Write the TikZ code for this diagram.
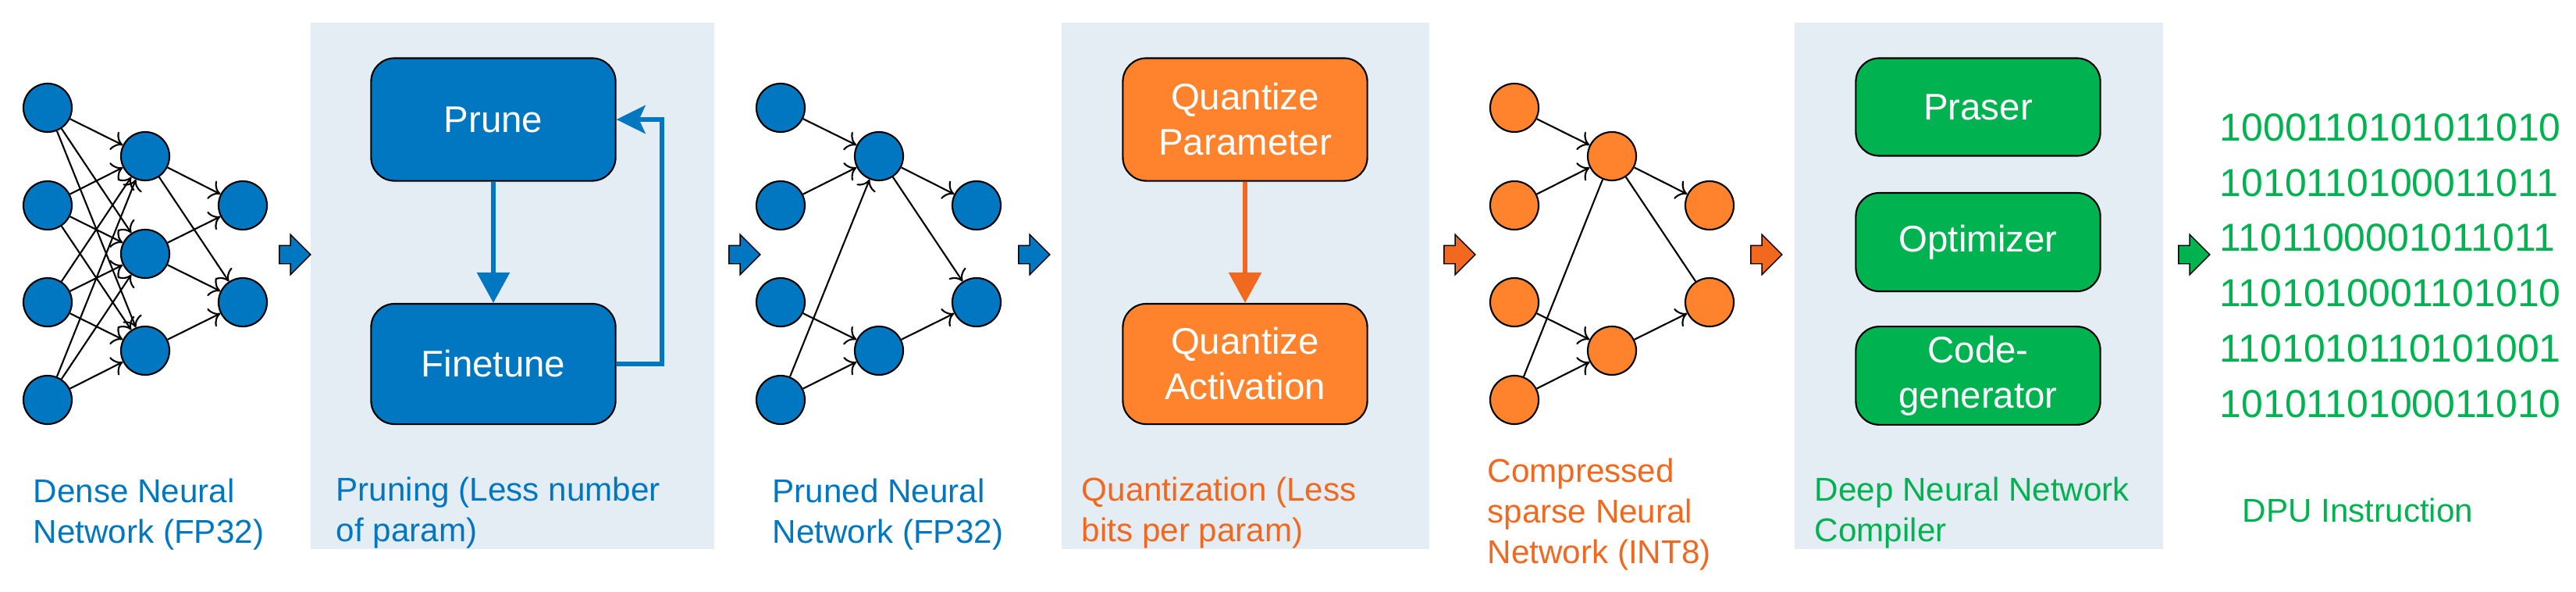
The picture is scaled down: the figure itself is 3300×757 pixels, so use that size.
\documentclass[tikz,border=0pt]{standalone}
\usepackage{fontspec}
\setmainfont{Liberation Sans}
\usetikzlibrary{arrows.meta,shapes.arrows}

\definecolor{nnblue}{RGB}{0,119,192}
\definecolor{nnorange}{RGB}{255,130,45}
\definecolor{arorange}{RGB}{242,104,30}
\definecolor{nngreen}{RGB}{0,178,80}
\definecolor{panel}{RGB}{228,236,244}

\tikzset{
  neuron/.style={circle, draw=black, line width=0.6pt, minimum size=0.62cm, inner sep=0pt},
  link/.style={line width=0.6pt, -{To[length=1.3mm,width=2.6mm]}},
  plain/.style={line width=0.6pt},
  stage/.style={rounded corners=0.3cm, draw=black, line width=0.6pt, text=white,
    minimum width=3.13cm, align=center, font=\fontsize{13.5}{16.5}\selectfont},
  fat/.style={single arrow, draw=black, line width=0.4pt, minimum height=0.4cm,
    inner xsep=0pt, inner ysep=0.11cm, single arrow head extend=0.14cm},
  caption/.style={anchor=north west, inner sep=0pt, align=left,
    font=\fontsize{12}{14.8}\selectfont}
}

\begin{document}
\begin{tikzpicture}[x=0.01cm, y=-0.01cm]

\useasboundingbox (0,0) rectangle (3300,757);

% panels
\fill[panel] (398,29) rectangle (915,703);
\fill[panel] (1360,29) rectangle (1831,703);
\fill[panel] (2299,29) rectangle (2771,703);

% dense network
\tikzstyle{every node} = [fill=nnblue]
\node[neuron] (a1) at (61,138) {};
\node[neuron] (a2) at (61,263) {};
\node[neuron] (a3) at (61,387) {};
\node[neuron] (a4) at (61,512) {};
\node[neuron] (b1) at (186,200) {};
\node[neuron] (b2) at (186,325) {};
\node[neuron] (b3) at (186,449) {};
\node[neuron] (c1) at (311,263) {};
\node[neuron] (c2) at (311,387) {};

\foreach \i in {a1,a2,a3,a4}
  \foreach \j in {b1,b2,b3}
    \draw[link] (\i) -- (\j);
\draw[link] (b1) -- (c1);
\draw[link] (b1) -- (c2);
\draw[link] (b2) -- (c1);
\draw[link] (b2) -- (c2);
\draw[link] (b3) -- (c2);

% pruned network
\node[neuron] (p1) at (1000,138) {};
\node[neuron] (p2) at (1000,263) {};
\node[neuron] (p3) at (1000,387) {};
\node[neuron] (p4) at (1000,512) {};
\node[neuron] (q1) at (1126,200) {};
\node[neuron] (q3) at (1126,449) {};
\node[neuron] (r1) at (1251,263) {};
\node[neuron] (r2) at (1251,387) {};

\draw[link] (p1) -- (q1);
\draw[link] (p2) -- (q1);
\draw[link] (p4) -- (q1);
\draw[link] (p3) -- (q3);
\draw[link] (p4) -- (q3);
\draw[link] (q1) -- (r1);
\draw[link] (q1) -- (r2);
\draw[link] (q3) -- (r2);

% compressed network
\tikzstyle{every node} = [fill=nnorange]
\node[neuron] (s1) at (1940,138) {};
\node[neuron] (s2) at (1940,263) {};
\node[neuron] (s3) at (1940,387) {};
\node[neuron] (s4) at (1940,512) {};
\node[neuron] (t1) at (2065,200) {};
\node[neuron] (t3) at (2065,449) {};
\node[neuron] (u1) at (2190,263) {};
\node[neuron] (u2) at (2190,387) {};

\draw[link] (s1) -- (t1);
\draw[link] (s2) -- (t1);
\draw[plain] (s4) -- (t1);
\draw[link] (s3) -- (t3);
\draw[link] (s4) -- (t3);
\draw[link] (t1) -- (u1);
\draw[plain] (t1) -- (u2);
\draw[link] (t3) -- (u2);

\tikzstyle{every node} = []

% pruning loop
\node[stage, fill=nnblue, minimum height=1.57cm] (prune) at (632,153) {Prune};
\node[stage, fill=nnblue, minimum height=1.54cm] (tune) at (632,466) {Finetune};
\coordinate (back) at (848,153);
\draw[nnblue, line width=1.7pt, -{Triangle[length=0.39cm,width=0.41cm]}] (prune) -- (tune);
\draw[nnblue, line width=1.7pt, -{Stealth[length=0.37cm,width=0.36cm,inset=0.08cm]}]
  (tune.east) -| (back) -- (prune.east);

% quantization
\node[stage, fill=nnorange, minimum height=1.57cm] (qpar) at (1595,153) {Quantize\\Parameter};
\node[stage, fill=nnorange, minimum height=1.54cm] (qact) at (1595,466) {Quantize\\Activation};
\draw[arorange, line width=1.7pt, -{Triangle[length=0.39cm,width=0.41cm]}] (qpar) -- (qact);

% compiler
\node[stage, fill=nngreen, minimum height=1.25cm] (parse) at (2534,137) {Praser};
\node[stage, fill=nngreen, minimum height=1.26cm] (opt) at (2534,310) {Optimizer};
\node[stage, fill=nngreen, minimum height=1.23cm] (gen) at (2534,481) {Code-\\generator};

% stage arrows
\node[fat, fill=nnblue] (f1) at (372,326) {};
\node[fat, fill=nnblue] (f2) at (948,326) {};
\node[fat, fill=nnblue] (f3) at (1319,326) {};
\node[fat, fill=arorange] (f4) at (1864,326) {};
\node[fat, fill=arorange] (f5) at (2257,326) {};
\node[fat, fill=nngreen] (f6) at (2805,326) {};

% instructions
\node[anchor=north west, inner sep=0pt, align=left, text=nngreen,
  font=\fontsize{14.2}{20.1}\selectfont] (bits) at (2843,145)
  {1000110101011010\\1010110100011011\\1101100001011011\\1101010001101010\\1101010110101001\\1010110100011010};

% captions
\node[caption, text=nnblue] (l1) at (42,612) {Dense Neural\\Network (FP32)};
\node[caption, text=nnblue] (l2) at (430,610) {Pruning (Less number\\of param)};
\node[caption, text=nnblue] (l3) at (989,612) {Pruned Neural\\Network (FP32)};
\node[caption, text=arorange] (l4) at (1385,610) {Quantization (Less\\bits per param)};
\node[caption, text=arorange] (l5) at (1905,586) {Compressed\\sparse Neural\\Network (INT8)};
\node[caption, text=nngreen] (l6) at (2324,610) {Deep Neural Network\\Compiler};
\node[caption, text=nngreen] (l7) at (2872,637) {DPU Instruction};

\end{tikzpicture}
\end{document}
